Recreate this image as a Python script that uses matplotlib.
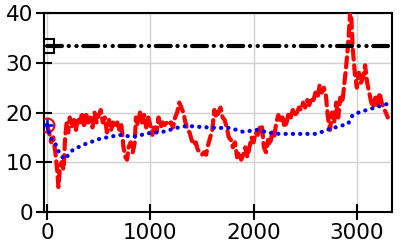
import matplotlib
matplotlib.use("Agg")
import matplotlib.pyplot as plt

# --- data ---
red_x = [0, 20, 40, 60, 80, 100, 110, 125, 140, 160, 175, 190, 205, 220, 240, 260, 280, 300,
         320, 340, 360, 380, 400, 420, 440, 460, 480, 500, 520, 540, 560, 580, 600, 620, 640,
         660, 680, 700, 720, 740, 760, 775, 790, 810, 830, 850, 860, 880, 900, 920, 940, 960,
         980, 1000, 1020, 1040, 1060, 1080, 1100, 1120, 1140, 1160, 1180, 1200, 1220, 1240,
         1260, 1280, 1300, 1320, 1340, 1360, 1380, 1400, 1420, 1440, 1460, 1480, 1500, 1520,
         1540, 1560, 1580, 1600, 1620, 1640, 1660, 1680, 1700, 1720, 1740, 1760, 1780, 1800,
         1820, 1840, 1860, 1880, 1900, 1920, 1940, 1960, 1980, 2000, 2020, 2040, 2060, 2080,
         2100, 2120, 2140, 2160, 2180, 2200, 2220, 2240, 2260, 2280, 2300, 2320, 2340, 2360,
         2380, 2400, 2420, 2440, 2460, 2480, 2500, 2520, 2540, 2560, 2580, 2600, 2620, 2640,
         2660, 2680, 2700, 2720, 2740, 2760, 2780, 2800, 2820, 2840, 2860, 2880, 2900, 2920,
         2940, 2960, 2980, 3000, 3020, 3040, 3060, 3080, 3100, 3120, 3140, 3160, 3180, 3200,
         3220, 3240, 3260, 3280, 3300]
red_y = [17.5, 16, 14, 15, 12, 8, 5, 9, 10, 8.5, 15, 18, 16, 19, 17, 18.5, 16.5, 19,
         18, 20, 17, 19.5, 18, 19, 17, 20, 18, 19.5, 20.5, 18, 19, 16, 18.5, 16.5, 18,
         17, 18, 16.5, 17.5, 13, 11, 10.5, 13, 14, 12, 14, 19, 17.5, 20, 18, 19.5, 17,
         19, 17.5, 15.5, 17.5, 16, 19, 17, 18, 17.5, 18, 17.5, 18, 17, 19,
         20, 22, 21, 20, 18, 16.5, 16, 14.5, 13.5, 14, 12.5, 12, 11.5, 12,
         11.5, 13.5, 15, 16.5, 20.5, 19, 20, 21, 19, 18.5, 17, 15, 14.5, 13,
         14, 11, 12, 10.5, 11.5, 13, 11, 13, 15, 14, 16, 15.5, 17, 17.5,
         13, 12, 14.5, 13.5, 16, 15, 18, 19.5, 18, 19, 17, 18, 20, 19,
         20.5, 19.5, 20, 21, 20.5, 22, 21, 22.5, 21.5, 23, 22.5, 24, 23, 25.5,
         24, 25, 23.5, 19, 16.5, 20, 18, 22, 19, 23, 22, 26, 30, 35,
         42, 33, 28, 25, 28, 26, 27, 29.5, 26, 24, 22, 21, 23, 21.5,
         24, 22, 21, 20, 19]

blue_x = [0, 30, 77, 126, 170, 250, 350, 510, 700, 830, 1000, 1120, 1290, 1360, 1480,
          1650, 1770, 1900, 2030, 2160, 2250, 2400, 2610, 2710, 2840, 2915, 2960, 3030,
          3160, 3290]
blue_y = [17.5, 15, 13.9, 11.5, 10.6, 12.5, 13.5, 14.7, 15.5, 15.1, 15.9, 16.1, 17.1,
          17.3, 17.1, 16.9, 16.9, 16.1, 16.5, 15.9, 15.7, 15.7, 15.7, 16.5, 17.3, 17.7,
          19.5, 20.1, 20.9, 21.7]

black_x = [0, 3300]
black_y = [33.3, 33.3]

x_ticks = [0, 1000, 2000, 3000]
y_ticks = [0, 10, 20, 30, 40]

plt.rcParams['font.family'] = ['DejaVu Sans']

fig = plt.figure(figsize=(4.07, 2.47), dpi=100)
ax = fig.add_axes([0.108, 0.142, 0.855, 0.805])

ax.plot(red_x, red_y, color='#ff0000', lw=3, dashes=(2.4, 1.4), dash_capstyle='round',
        marker='o', markevery=[0], ms=10, mfc='none', mec='#ff0000', mew=1.5, zorder=3)
ax.plot(blue_x, blue_y, color='#0000ff', lw=3, dashes=(0.05, 1.7), dash_capstyle='round',
        marker='+', markevery=[0], ms=9, mec='#0000ff', mew=1.8, zorder=4)
ax.plot(black_x, black_y, color='black', lw=3,
        dashes=(3.6, 1.6, 0.05, 1.8, 0.05, 1.6), dash_capstyle='round',
        marker='s', markevery=[0], ms=10, mfc='none', mec='black', mew=1.5, zorder=5)

ax.set_xlim(-30, 3340)
ax.set_ylim(0, 40)
ax.set_xticks(x_ticks)
ax.set_yticks(y_ticks)
ax.grid(True, color='#d0d0d0', lw=1)
ax.set_axisbelow(True)
for s in ax.spines.values():
    s.set_linewidth(1.5)
ax.tick_params(direction='inout', length=12, width=1.5, labelsize=15.5, pad=2,
               top=False, right=False)

fig.savefig('out.png', dpi=100)
